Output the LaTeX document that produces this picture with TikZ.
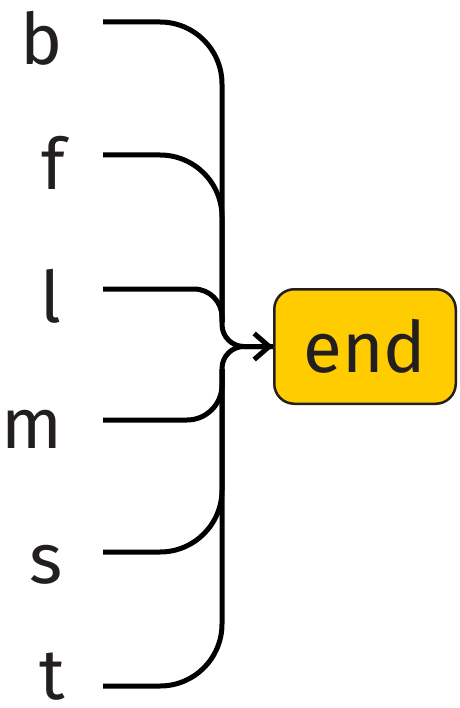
\documentclass[tikz,border=0pt]{standalone}
\usepackage{fontspec}
\setmainfont{Fira Sans}
\usetikzlibrary{positioning, arrows.meta}
\definecolor{endgold}{RGB}{255,204,0}
\definecolor{inkgray}{RGB}{35,31,32}

\begin{document}
\begin{tikzpicture}[
    x=1pt, y=-1pt,
    letter/.style={anchor=base east, inner sep=0pt, text depth=0pt, text=inkgray, font=\fontsize{71}{85}\selectfont},
    endbox/.style={rectangle, draw=inkgray, line width=2.5pt, fill=endgold, rounded corners=20pt,
        minimum width=181.5pt, minimum height=114.5pt, text=inkgray, font=\fontsize{71}{85}\selectfont},
    wire/.style={line width=5pt, black},
    arrow/.style={wire, -{Straight Barb[length=15pt, width=26pt]}}
]
    \useasboundingbox (0,0) rectangle (459,708);

    % --- LABELS ---
    \node (b) [letter] at (63,65) {b};
    \node (f) [letter] at (65,190) {f};
    \node (l) [letter] at (62,322) {l};
    \node (m) [letter] at (63,448) {m};
    \node (s) [letter] at (63,583) {s};
    \node (t) [letter] at (65,699) {t};

    % --- TARGET ---
    \node (end) [endbox] at (365,346.5) {end};

    % --- WIRE START POINTS ---
    \coordinate (b-in) at (103,22);
    \coordinate (f-in) at (103,155);
    \coordinate (l-in) at (103,289);
    \coordinate (m-in) at (103,420);
    \coordinate (s-in) at (103,552);
    \coordinate (t-in) at (103,686);
    \coordinate (up) at (222,322);
    \coordinate (down) at (222,369);

    % --- DRAW CONNECTIONS ---
    \draw [wire, rounded corners=62pt] (b-in) -| (up);
    \draw [wire, rounded corners=62pt] (f-in) -| (up);
    \draw [wire, rounded corners=28pt] (l-in) -| (up);
    \draw [wire, rounded corners=35pt] (m-in) -| (down);
    \draw [wire, rounded corners=62pt] (s-in) -| (down);
    \draw [wire, rounded corners=62pt] (t-in) -| (down);

    % merge into the box
    \draw [wire, rounded corners=22pt] (down) |- (end.west);
    \draw [arrow, rounded corners=22pt] (up) |- (end.west);

\end{tikzpicture}
\end{document}
